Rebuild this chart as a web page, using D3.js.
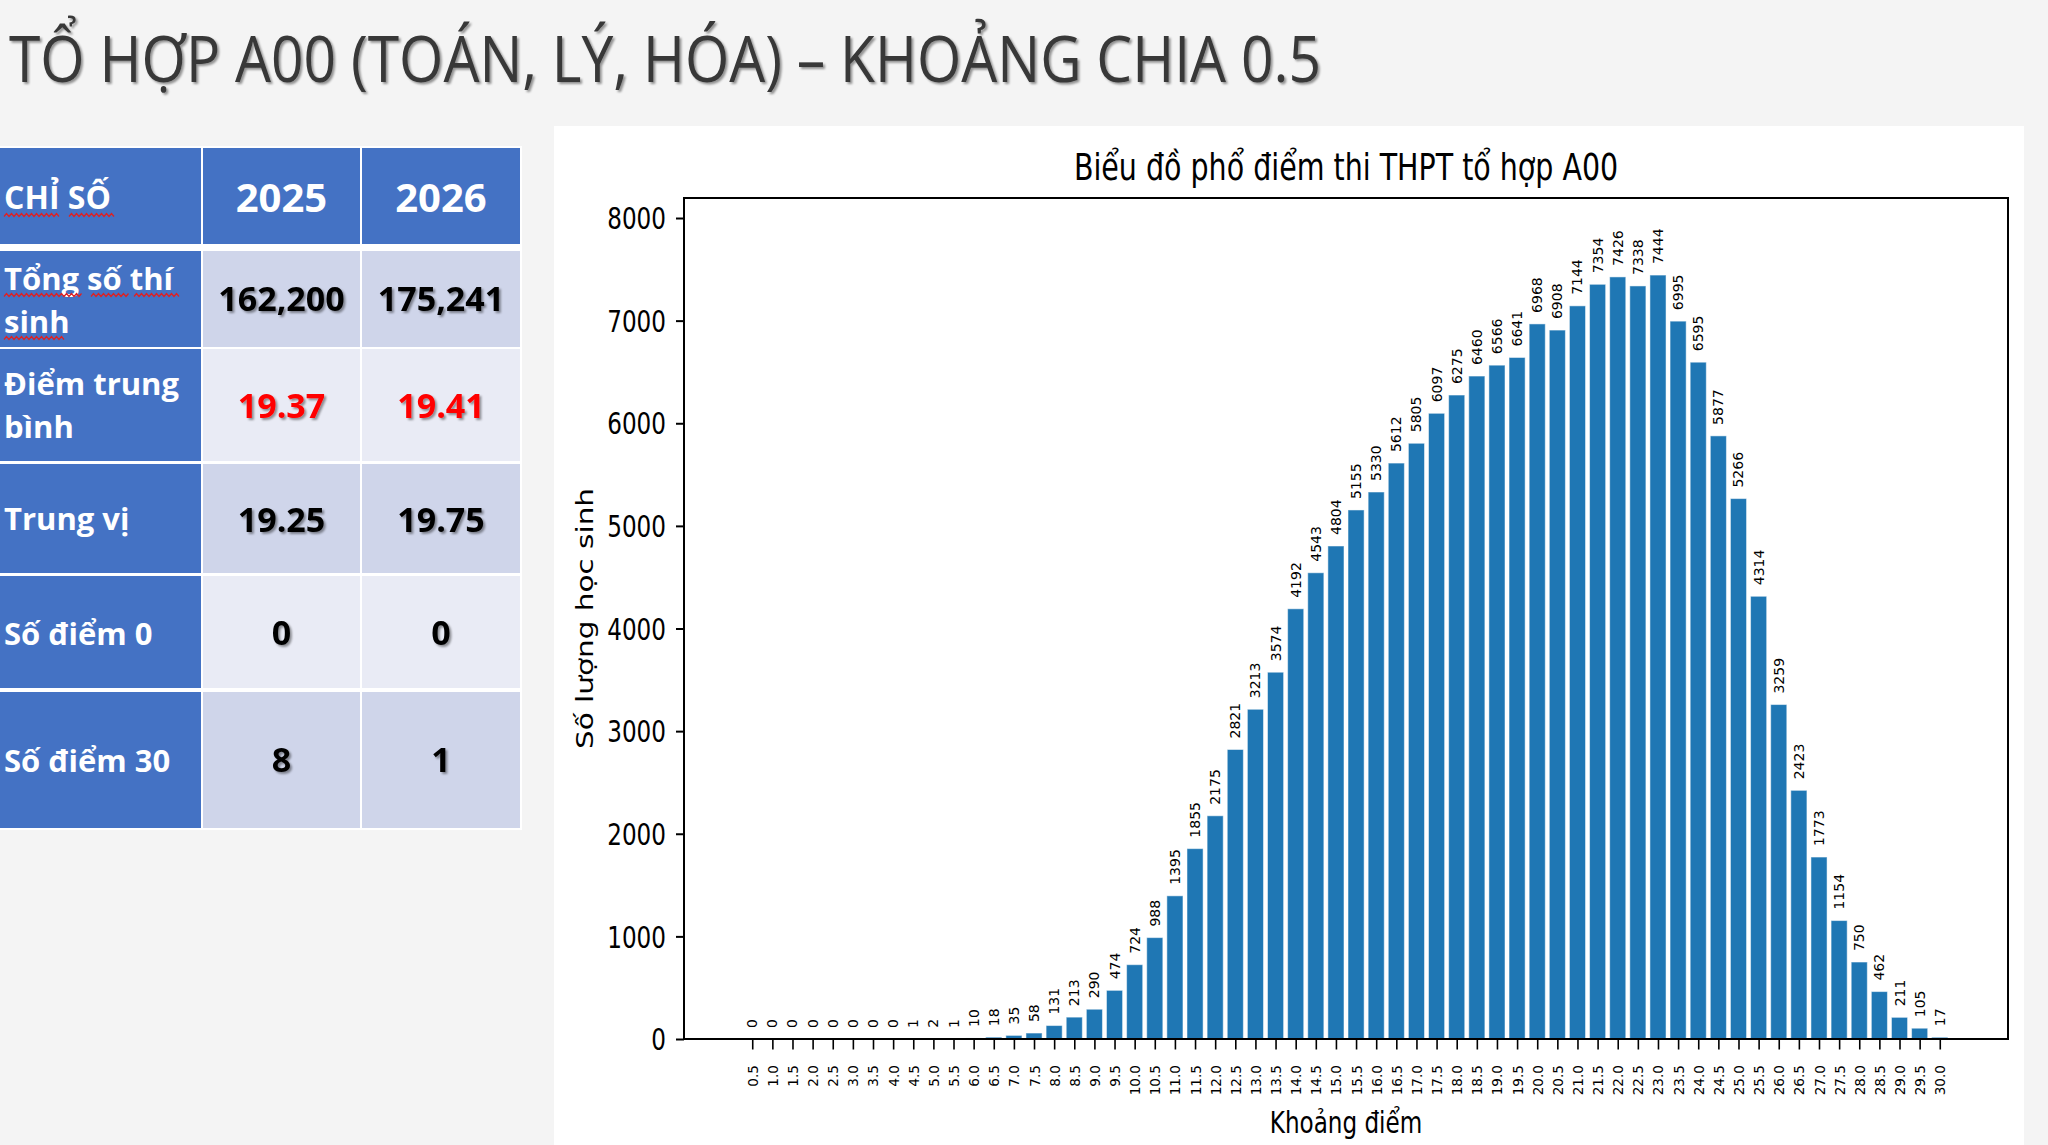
<!DOCTYPE html>
<html>
<head>
<meta charset="utf-8">
<script src="https://cdn.jsdelivr.net/npm/d3@7"></script>
<style>
  body { margin: 0; background: #f4f4f4; }
  svg { display: block; }
</style>
</head>
<body>
<script>
// score bins (x tick labels) and number of students per bin
const scoreBins = ['0.5', '1.0', '1.5', '2.0', '2.5', '3.0', '3.5', '4.0', '4.5', '5.0',
  '5.5', '6.0', '6.5', '7.0', '7.5', '8.0', '8.5', '9.0', '9.5', '10.0',
  '10.5', '11.0', '11.5', '12.0', '12.5', '13.0', '13.5', '14.0', '14.5', '15.0',
  '15.5', '16.0', '16.5', '17.0', '17.5', '18.0', '18.5', '19.0', '19.5', '20.0',
  '20.5', '21.0', '21.5', '22.0', '22.5', '23.0', '23.5', '24.0', '24.5', '25.0',
  '25.5', '26.0', '26.5', '27.0', '27.5', '28.0', '28.5', '29.0', '29.5', '30.0']
const studentCounts = [0, 0, 0, 0, 0, 0, 0, 0, 1, 2,
  1, 10, 18, 35, 58, 131, 213, 290, 474, 724,
  988, 1395, 1855, 2175, 2821, 3213, 3574, 4192, 4543, 4804,
  5155, 5330, 5612, 5805, 6097, 6275, 6460, 6566, 6641, 6968,
  6908, 7144, 7354, 7426, 7338, 7444, 6995, 6595, 5877, 5266,
  4314, 3259, 2423, 1773, 1154, 750, 462, 211, 105, 17]
const yTicks = [0, 1000, 2000, 3000, 4000, 5000, 6000, 7000, 8000]

// summary table
const tableHeader = ['CHỈ SỐ', '2025', '2026']
const rowLabels = [['Tổng số thí', 'sinh'], ['Điểm trung', 'bình'], ['Trung vị'], ['Số điểm 0'], ['Số điểm 30']]
const values2025 = ['162,200', '19.37', '19.25', '0', '8']
const values2026 = ['175,241', '19.41', '19.75', '0', '1']
const highlightRow = 1

const W = 2048
const H = 1145
const svg = d3.select('body').append('svg')
  .attr('width', W)
  .attr('height', H)

const defs = svg.append('defs')
defs.append('filter').attr('id', 'shadow')
  .attr('x', '-10%').attr('y', '-20%').attr('width', '130%').attr('height', '150%')
  .append('feDropShadow')
    .attr('dx', 2).attr('dy', 2).attr('stdDeviation', 1)
    .attr('flood-color', '#000').attr('flood-opacity', 0.4)

svg.append('rect').attr('width', W).attr('height', H).attr('fill', '#f4f4f4')

// slide title
svg.append('text')
  .attr('x', 9).attr('y', 82)
  .attr('textLength', 1312).attr('lengthAdjust', 'spacingAndGlyphs')
  .style('font-family', '"Open Sans", sans-serif')
  .style('font-size', '64px')
  .attr('fill', '#383838')
  .attr('filter', 'url(#shadow)')
  .text('TỔ HỢP A00 (TOÁN, LÝ, HÓA) – KHOẢNG CHIA 0.5')

// ---------- table ----------
const colEdges = [[0, 201], [203, 360], [362, 520]]
const rowEdges = [[148, 244], [251, 347], [349, 461], [464, 573], [576, 688], [692, 828]]
const rowFills = ['#CFD5EA', '#E9EBF5', '#CFD5EA', '#E9EBF5', '#CFD5EA']
const blue = '#4472C4'
const font = '"Open Sans", "Noto Sans", sans-serif'

const table = svg.append('g')
table.append('rect').attr('x', 0).attr('y', 146).attr('width', 522).attr('height', 684).attr('fill', '#fff')

// header
colEdges.forEach((c, j) => {
  table.append('rect')
    .attr('x', c[0]).attr('y', rowEdges[0][0])
    .attr('width', c[1] - c[0]).attr('height', rowEdges[0][1] - rowEdges[0][0])
    .attr('fill', blue)
})
table.append('text')
  .attr('x', 4).attr('y', 209)
  .style('font-family', font).style('font-weight', 700).style('font-size', '32px')
  .attr('fill', '#fff')
  .text(tableHeader[0])
tableHeader.slice(1).forEach((t, j) => {
  const c = colEdges[j + 1]
  table.append('text')
    .attr('x', (c[0] + c[1]) / 2).attr('y', 212)
    .attr('text-anchor', 'middle')
    .style('font-family', font).style('font-weight', 700).style('font-size', '40px')
    .attr('fill', '#fff')
    .text(t)
})

const labelBaselines = [[290, 333], [395, 438], [530], [645], [772]]
const valueBaselines = [311, 418, 532, 645, 772]

rowLabels.forEach((lines, i) => {
  const r = rowEdges[i + 1]
  table.append('rect')
    .attr('x', colEdges[0][0]).attr('y', r[0])
    .attr('width', colEdges[0][1] - colEdges[0][0]).attr('height', r[1] - r[0])
    .attr('fill', blue)
  ;[1, 2].forEach(j => {
    const c = colEdges[j]
    table.append('rect')
      .attr('x', c[0]).attr('y', r[0])
      .attr('width', c[1] - c[0]).attr('height', r[1] - r[0])
      .attr('fill', rowFills[i])
  })
  lines.forEach((line, k) => {
    table.append('text')
      .attr('x', 4).attr('y', labelBaselines[i][k])
      .style('font-family', font).style('font-weight', 700).style('font-size', '31px')
      .attr('fill', '#fff')
      .text(line)
  })
  ;[values2025[i], values2026[i]].forEach((v, j) => {
    const c = colEdges[j + 1]
    table.append('text')
      .attr('x', (c[0] + c[1]) / 2).attr('y', valueBaselines[i])
      .attr('text-anchor', 'middle')
      .style('font-family', font).style('font-weight', 700).style('font-size', '34px')
      .attr('fill', i === highlightRow ? '#ff0000' : '#000')
      .attr('filter', 'url(#shadow)')
      .text(v)
  })
})

// spell-check squiggles
const squiggles = [[4, 59, 215], [69, 115, 215], [4, 83, 295], [91, 130, 295], [134, 181, 295], [4, 66, 338]]
squiggles.forEach(([x1, x2, y]) => {
  const pts = []
  for (let x = x1, k = 0; x <= x2; x += 2.5, k++) pts.push([x, y + (k % 2 ? -1.5 : 1.5)])
  table.append('path')
    .attr('d', d3.line()(pts))
    .attr('fill', 'none').attr('stroke', '#e02020').attr('stroke-width', 1.2)
})

// ---------- chart ----------
svg.append('rect')
  .attr('x', 554).attr('y', 126).attr('width', 1470).attr('height', H - 126)
  .attr('fill', '#fff')

const plot = { left: 684, right: 2008, top: 198, bottom: 1039 }
const sx = 0.77 // horizontal text in the chart picture is squeezed
const chartFont = '"DejaVu Sans", sans-serif'

const n = studentCounts.length
const x = d3.scaleLinear()
  .domain([-0.4 - 0.05 * (n - 0.2), n - 0.6 + 0.05 * (n - 0.2)])
  .range([plot.left, plot.right])
const y = d3.scaleLinear()
  .domain([0, 8195])
  .range([plot.bottom, plot.top])
const barW = x(0.8) - x(0)

const g = svg.append('g')

g.selectAll('rect.bar')
  .data(studentCounts)
  .join('rect')
    .attr('class', 'bar')
    .attr('x', (d, i) => x(i) - barW / 2)
    .attr('y', d => y(d))
    .attr('width', barW)
    .attr('height', d => y(0) - y(d))
    .attr('fill', '#1f77b4')
    .attr('stroke', '#fff')
    .attr('stroke-opacity', 0.5)
    .attr('stroke-width', 1)

g.selectAll('text.val')
  .data(studentCounts)
  .join('text')
    .attr('class', 'val')
    .attr('transform', (d, i) => `translate(${x(i)},${y(d) - 11}) rotate(-90)`)
    .attr('dominant-baseline', 'central')
    .style('font-family', chartFont).style('font-size', '14px')
    .attr('fill', '#000')
    .text(d => d)

// y axis
const yAxis = g.append('g')
  .attr('transform', `translate(${plot.left},0)`)
  .call(d3.axisLeft(y).tickValues(yTicks).tickFormat(d3.format('d')).tickSize(8).tickSizeOuter(0))
yAxis.select('.domain').remove()
yAxis.selectAll('line').attr('stroke', '#000').attr('stroke-width', 2)
yAxis.selectAll('text')
  .attr('x', null).attr('dy', null)
  .attr('transform', `translate(-18,0) scale(${sx},1)`)
  .attr('dominant-baseline', 'central')
  .attr('fill', '#000')
  .style('font-family', chartFont).style('font-size', '30px')

// x axis
const xAxis = g.append('g')
  .attr('transform', `translate(0,${plot.bottom})`)
  .call(d3.axisBottom(x).tickValues(d3.range(n)).tickFormat(i => scoreBins[i]).tickSize(10.5).tickSizeOuter(0))
xAxis.select('.domain').remove()
xAxis.selectAll('line').attr('stroke', '#000').attr('stroke-width', 1.6)
xAxis.selectAll('text')
  .attr('y', null).attr('dy', null)
  .attr('transform', 'translate(0,26) rotate(-90)')
  .attr('text-anchor', 'end')
  .attr('dominant-baseline', 'central')
  .attr('fill', '#000')
  .style('font-family', chartFont).style('font-size', '13.6px')

// frame
g.append('rect')
  .attr('x', plot.left).attr('y', plot.top)
  .attr('width', plot.right - plot.left).attr('height', plot.bottom - plot.top)
  .attr('fill', 'none').attr('stroke', '#000').attr('stroke-width', 2)

// titles
g.append('text')
  .attr('transform', `translate(${(plot.left + plot.right) / 2},180) scale(${sx},1)`)
  .attr('text-anchor', 'middle')
  .style('font-family', chartFont).style('font-size', '37px')
  .text('Biểu đồ phổ điểm thi THPT tổ hợp A00')
g.append('text')
  .attr('transform', `translate(${(plot.left + plot.right) / 2},1133) scale(${sx},1)`)
  .attr('text-anchor', 'middle')
  .style('font-family', chartFont).style('font-size', '30px')
  .text('Khoảng điểm')
g.append('text')
  .attr('transform', `translate(585,${(plot.top + plot.bottom) / 2}) scale(${sx},1) rotate(-90)`)
  .attr('text-anchor', 'middle')
  .attr('dominant-baseline', 'central')
  .style('font-family', chartFont).style('font-size', '29.5px')
  .text('Số lượng học sinh')
</script>
</body>
</html>
